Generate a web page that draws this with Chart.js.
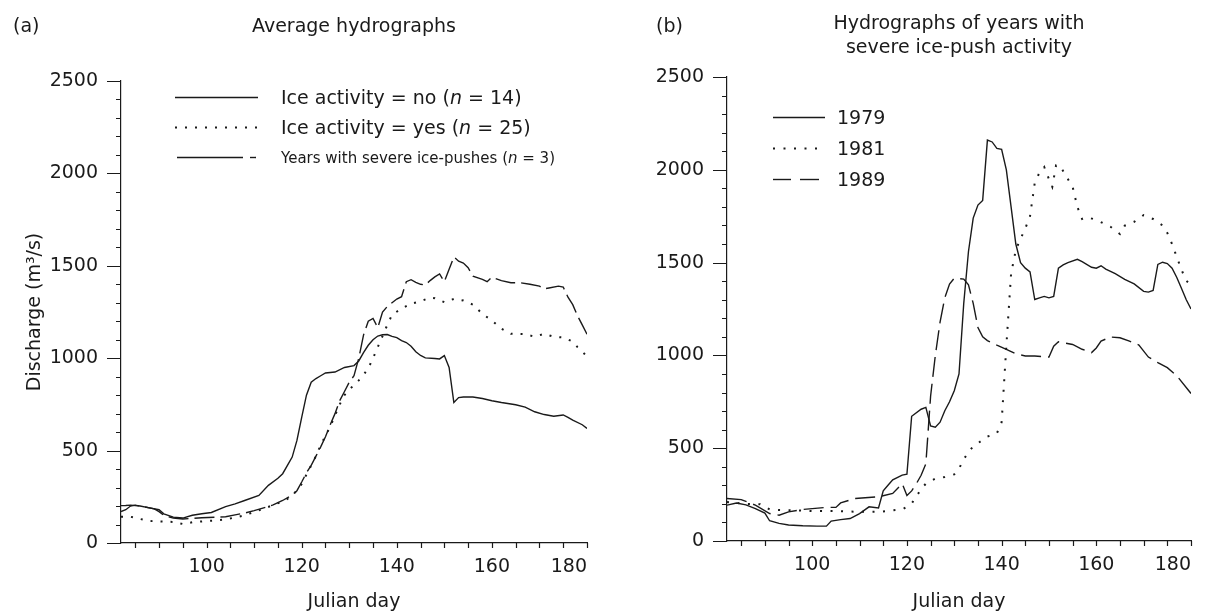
<!DOCTYPE html>
<html>
<head>
<meta charset="utf-8">
<script src="https://cdn.jsdelivr.net/npm/chart.js@4.4.1/dist/chart.umd.min.js"></script>
<style>
body { margin: 0; background: #fff; }
#wrap { position: relative; width: 1208px; height: 614px; font-family: 'DejaVu Sans', sans-serif; color: #1a1a1a; }
.box { position: absolute; top: 0; width: 604px; height: 614px; }
.t { position: absolute; font-size: 19px; line-height: 22px; white-space: nowrap; }
.c { transform: translateX(-50%); text-align: center; }
#marks { position: absolute; left: 0; top: 0; pointer-events: none; }
</style>
</head>
<body>
<div id="wrap">
  <div class="box" style="left:0"><canvas id="chartA" width="604" height="614"></canvas></div>
  <div class="box" style="left:604px"><canvas id="chartB" width="604" height="614"></canvas></div>

  <div class="t" style="left:13px;top:14px">(a)</div>
  <div class="t c" style="left:354px;top:14px">Average hydrographs</div>
  <div class="t" style="left:656px;top:14px">(b)</div>
  <div class="t c" style="left:959px;top:10px;line-height:24px">Hydrographs of years with<br>severe ice-push activity</div>

  <div class="t" style="left:281px;top:86px">Ice activity = no (<i>n</i> = 14)</div>
  <div class="t" style="left:281px;top:116px">Ice activity = yes (<i>n</i> = 25)</div>
  <div class="t" style="left:281px;top:147px;font-size:15px">Years with severe ice-pushes (<i>n</i> = 3)</div>

  <div class="t" style="left:837px;top:106px">1979</div>
  <div class="t" style="left:837px;top:137px">1981</div>
  <div class="t" style="left:837px;top:168px">1989</div>

  <svg id="marks" width="1208" height="614">
    <g stroke="#1a1a1a" fill="none">
      <line x1="175" y1="97.5" x2="258" y2="97.5" stroke-width="1.4"/>
      <line x1="175" y1="127.5" x2="258" y2="127.5" stroke-width="2" stroke-dasharray="2 8"/>
      <line x1="177" y1="157.5" x2="243" y2="157.5" stroke-width="1.4"/>
      <line x1="250" y1="157.5" x2="256" y2="157.5" stroke-width="1.4"/>
      <line x1="773" y1="117.5" x2="825" y2="117.5" stroke-width="1.4"/>
      <line x1="773" y1="148.5" x2="822" y2="148.5" stroke-width="2" stroke-dasharray="2 8.5"/>
      <line x1="773" y1="179.5" x2="791" y2="179.5" stroke-width="1.4"/>
      <line x1="800" y1="179.5" x2="819" y2="179.5" stroke-width="1.4"/>
    </g>
  </svg>
</div>

<script>
'use strict';
var ink = '#1a1a1a';

// (a) average hydrographs
var noDays = [82,83,84,86,88,90,91,93,95,97,99,101,104,106,108,111,113,115,116,117,118,119,120,121,122,123,124,125,127,129,
  131,132,133,134,135,136,137,138,139,140,141,142,143,144,145,146,148,149,150,151,152,153,154,156,158,160,162,165,167,169,
  171,173,175,176,177,179,180];
var noVals = [202,203,205,200,190,180,158,140,135,150,158,165,197,212,230,257,312,350,375,420,465,555,680,800,870,890,905,920,925,950,
  960,985,1030,1070,1100,1120,1127,1128,1118,1111,1095,1085,1065,1035,1015,1002,998,996,1014,950,760,787,790,790,782,770,760,748,735,710,
  695,686,693,680,665,640,620];

var yesDays = [82,84,86,88,90,93,95,97,100,102,104,106,108,110,112,114,116,117,119,120,121,122,123,124,125,126,127,128,129,130,
  131,132,133,134,135,136,137,138,139,141,143,145,147,148,150,152,154,156,158,160,162,164,167,169,171,173,175,177,178,180];
var yesVals = [142,142,130,119,117,114,103,112,119,122,128,138,150,168,186,205,225,238,283,320,370,420,470,530,580,630,690,750,800,830,
  855,880,910,945,1000,1060,1120,1180,1235,1268,1295,1308,1328,1325,1303,1321,1312,1290,1240,1204,1160,1132,1130,1116,1132,1116,1112,1090,1060,1010];

var severeDays = [82,83,84,85,87,89,90,91,93,95,97,99,102,104,106,108,110,112,114,116,118,119,120,121,122,123,124,125,126,127,
  128,129,130,131,132,133,134,135,136,137,138,139,140,141,142,143,144,145,146,147,148,149,150,151,152,153,154,155,156,
  158,159,160,162,164,166,168,170,171,172,174,175,176,177,178,179,180];
var severeVals = [170,180,200,205,195,185,170,150,135,130,133,137,140,142,152,162,175,190,206,230,260,283,330,380,420,470,520,575,640,700,
  770,820,870,905,1000,1125,1200,1215,1165,1250,1280,1300,1320,1333,1414,1425,1410,1400,1396,1420,1440,1456,1414,1481,1548,1525,1515,1490,1444,
  1427,1414,1438,1420,1408,1408,1400,1390,1375,1380,1390,1385,1330,1290,1230,1180,1130];

// (b) years with severe ice-push activity
var days1979 = [82,84,86,88,90,91,93,95,98,101,103,104,106,108,110,112,114,115,116,117,119,120,121,123,124,125,126,127,128,129,
  130,131,132,133,134,135,136,137,138,139,140,141,142,143,144,145,146,147,148,149,150,151,152,153,154,156,157,159,160,161,
  162,164,166,168,170,171,172,173,174,175,176,177,178,179,180];
var vals1979 = [193,205,195,175,150,109,95,86,82,80,80,107,115,121,148,184,178,270,300,330,355,360,672,710,720,620,613,640,702,750,
  810,900,1280,1560,1740,1810,1835,2160,2150,2115,2110,2000,1800,1600,1500,1470,1450,1301,1310,1318,1310,1318,1470,1488,1500,1518,1505,1475,1470,1483,
  1465,1440,1410,1385,1345,1341,1350,1490,1502,1495,1470,1420,1360,1300,1250];

var days1981 = [82,84,86,89,91,93,96,100,105,110,114,117,119,120,121,122,123,124,126,128,130,131,132,133,134,135,137,139,140,141,
  142,143,144,145,146,147,148,149,150,150.7,151.5,152.3,154,155,156,157,158,160,163,165,166,168,170,172,174,175,176,177,178,179,180];
var vals1981 = [210,205,200,198,170,167,166,161,161,157,157,165,170,185,202,240,280,309,336,345,359,390,440,480,510,527,563,580,640,1050,
  1440,1569,1628,1684,1750,1930,1985,2015,1950,1908,2024,2024,1950,1908,1800,1735,1745,1730,1693,1654,1699,1720,1756,1735,1700,1660,1600,1530,1461,1402,1380];

var days1989 = [82,85,88,91,93,95,98,103,105,106,109,114,117,119,120,121,122,123,124,125,126,127,128,129,130,132,133,134,135,136,
  137,139,141,143,145,147,150,151,152,155,157,159,160,161,163,165,167,169,171,173,175,177,180];
var vals1989 = [229,223,193,148,139,157,170,181,181,205,229,238,256,309,245,270,309,354,416,780,1000,1180,1310,1384,1416,1411,1380,1280,1150,1100,
  1080,1055,1033,1009,997,997,991,1050,1073,1059,1033,1015,1040,1077,1099,1095,1077,1056,991,961,934,890,795];

var xTickLabels = [100, 120, 140, 160, 180];
var yTickLabels = [0, 500, 1000, 1500, 2000, 2500];

Chart.defaults.font.family = "'DejaVu Sans', sans-serif";
Chart.defaults.font.size = 19;
Chart.defaults.color = ink;

function points(days, vals) {
  return days.map(function(d, i) { return {x: d, y: vals[i]}; });
}

function series(label, days, vals, dash, width) {
  return {
    label: label,
    data: points(days, vals),
    borderColor: ink,
    borderWidth: width || 1.4,
    borderDash: dash || [],
    pointRadius: 0,
    tension: 0,
    fill: false
  };
}

// minor and major tick marks, drawn from the scales
var tickMarks = {
  id: 'tickMarks',
  afterDraw: function(chart) {
    var ctx = chart.ctx, area = chart.chartArea;
    var xs = chart.scales.x, ys = chart.scales.y;
    ctx.save();
    ctx.strokeStyle = ink;
    ctx.lineWidth = 1.2;
    ctx.beginPath();
    for (var v = 0; v <= 2500; v += 100) {
      var py = Math.round(ys.getPixelForValue(v)) + 0.5;
      var len = v % 500 === 0 ? 14 : 5;
      ctx.moveTo(area.left - len, py);
      ctx.lineTo(area.left, py);
    }
    for (var d = 85; d <= 180; d += 5) {
      var px = Math.round(xs.getPixelForValue(d)) + 0.5;
      ctx.moveTo(px, area.bottom);
      ctx.lineTo(px, area.bottom + 5);
    }
    ctx.stroke();
    ctx.restore();
  }
};

function makeChart(id, datasets, box) {
  return new Chart(document.getElementById(id), {
    type: 'line',
    data: { datasets: datasets },
    plugins: [tickMarks],
    options: {
      responsive: false,
      animation: false,
      layout: { padding: { top: box.top, right: box.right, left: 0, bottom: 0 } },
      plugins: { legend: { display: false }, tooltip: { enabled: false } },
      scales: {
        x: {
          type: 'linear',
          min: 82,
          max: 180,
          afterBuildTicks: function(s) { s.ticks = s.ticks.filter(function(t) { return t.value % 5 === 0; }); },
          afterFit: function(s) { s.height = box.xh; },
          ticks: {
            stepSize: 5,
            autoSkip: false,
            maxRotation: 0,
            align: 'inner',
            padding: 8,
            callback: function(v) { return xTickLabels.indexOf(v) >= 0 ? v : ''; }
          },
          grid: { drawOnChartArea: false, tickLength: 5, color: 'rgba(0,0,0,0)' },
          border: { display: true, color: ink, width: 1.2 },
          title: { display: true, text: 'Julian day', padding: { top: 0, bottom: 1 } }
        },
        y: {
          min: 0,
          max: 2500,
          afterFit: function(s) { s.width = box.yw; },
          ticks: {
            stepSize: 100,
            autoSkip: false,
            padding: 9,
            callback: function(v) { return yTickLabels.indexOf(v) >= 0 ? v : ''; }
          },
          grid: { drawOnChartArea: false, tickLength: 14, color: 'rgba(0,0,0,0)' },
          border: { display: true, color: ink, width: 1.2 },
          title: { display: box.ytitle, text: 'Discharge (m³/s)', padding: { top: 24, bottom: 0 } }
        }
      }
    }
  });
}

makeChart('chartA', [
  series('Ice activity = no (n = 14)', noDays, noVals),
  series('Ice activity = yes (n = 25)', yesDays, yesVals, [2, 8], 2),
  series('Years with severe ice-pushes (n = 3)', severeDays, severeVals, [20, 6])
], { top: 81, right: 17, xh: 71, yw: 121, ytitle: true });

makeChart('chartB', [
  series('1979', days1979, vals1979),
  series('1981', days1981, vals1981, [2, 8.5], 2),
  series('1989', days1989, vals1989, [20, 7])
], { top: 77, right: 17, xh: 73, yw: 123, ytitle: false });
</script>
</body>
</html>
